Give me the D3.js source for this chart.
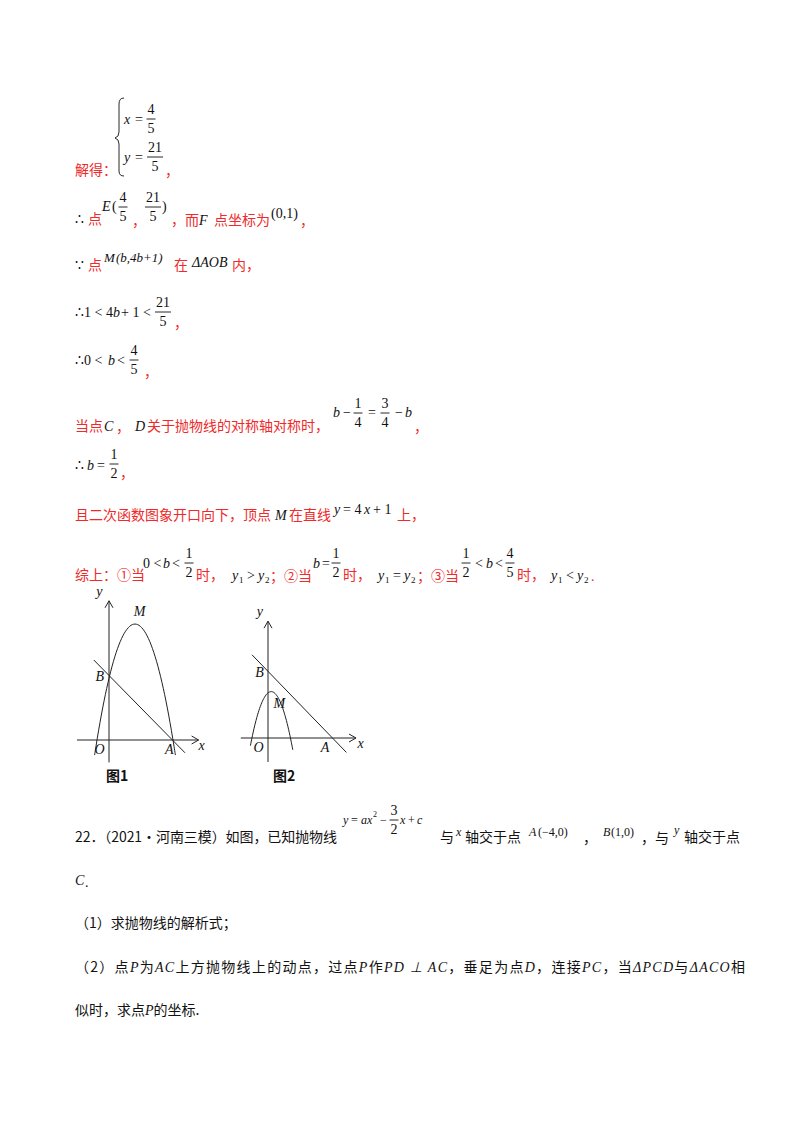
<!DOCTYPE html>
<html><head><meta charset="utf-8">
<script src="https://cdn.jsdelivr.net/npm/d3@7"></script>
<style>
body{margin:0;background:#fff}
text{font-family:"Liberation Serif","DejaVu Serif",serif;font-size:14px;fill:#111}
.cn{font-family:"Noto Sans CJK SC",sans-serif;font-size:14px}
.red{fill:#ee2a2a}
.it{font-style:italic}
</style></head>
<body>
<svg id="page" width="800" height="1132"></svg>
<script>
// figure data (math units, origin O)
var fig1Line = [[-0.95, 5], [4.75, -0.8]];
var fig1Parab = {a: -1.285, h: 1.625, k: 7.25, x0: -0.9, x1: 4.15};
var fig1Labels = [["y", -0.8, 9.0], ["M", 1.55, 7.75], ["B", -0.85, 3.7], ["O", -0.9, -0.9], ["A", 3.5, -0.9], ["x", 5.6, -0.6]];
var fig2Line = [[-1, 5.2], [4.9, -0.9]];
var fig2Parab = {a: -2.0, h: 0.2, k: 2.9, x0: -1.1, x1: 1.55};
var fig2Labels = [["y", -0.7, 7.6], ["B", -0.8, 3.8], ["M", 0.35, 1.85], ["O", -0.9, -0.9], ["A", 3.3, -0.9], ["x", 5.6, -0.6]];

var svg = d3.select("#page");

function t(x, y, s, cls, size) {
  var e = svg.append("text").attr("x", x).attr("y", y).text(s);
  if (cls) e.attr("class", cls);
  if (size) e.style("font-size", size + "px");
  return e;
}
function frac(x, y, num, den) {
  // y = bar position
  t(x, y - 5, num).attr("text-anchor", "middle");
  t(x, y + 14, den).attr("text-anchor", "middle");
  var w = num.length > 1 || den.length > 1 ? 16 : 9;
  svg.append("line").attr("x1", x - w / 2).attr("x2", x + w / 2)
    .attr("y1", y).attr("y2", y).attr("stroke", "#111").attr("stroke-width", 0.9);
}

// system
svg.append("path").attr("d", "M124,98 Q119,98 119,104 L119,132 Q119,137 115,138 Q119,139 119,144 L119,171 Q119,176 124,176")
  .attr("fill", "none").attr("stroke", "#111").attr("stroke-width", 0.9);
t(124, 124, "x", "it"); t(135, 124, "=");
frac(151, 119, "4", "5");
t(124, 162, "y", "it"); t(135, 162, "=");
frac(155, 157, "21", "5");
t(75, 175, "解得：", "cn red");
t(165, 176, "，", "cn red");

// E point
t(75, 224, "∴"); t(88, 224, "点", "cn red");
t(102, 211, "E", "it"); t(112, 211, "(");
frac(123, 207, "4", "5");
t(132, 226, "，", "cn red");
frac(153, 207, "21", "5");
t(162, 211, ")");
t(171, 225, "，而", "cn red"); t(199, 225, "F", "it");
t(214, 225, "点坐标为", "cn red");
t(271, 218, "(0,1)"); t(300, 226, "，", "cn red");

// M in triangle
t(75, 270, "∵"); t(88, 270, "点", "cn red");
t(104, 262, "M", "it", 13); t(116, 262, "(b,4b+1)", "it", 13);
t(174, 270, "在", "cn red"); t(192, 267, "ΔAOB", "it"); t(232, 270, "内，", "cn red");

// inequalities
t(75, 317, "∴1 < 4"); t(113, 317, "b", "it"); t(121, 317, "+ 1 <");
frac(163, 312, "21", "5"); t(174, 328, "，", "cn red");
t(75, 365, "∴0 <"); t(108, 365, "b", "it"); t(117, 365, "<");
frac(134, 360, "4", "5"); t(144, 377, "，", "cn red");

// symmetric
t(75, 431, "当点", "cn red"); t(104, 431, "C", "it"); t(116, 432, "，", "cn red");
t(135, 431, "D", "it"); t(147, 431, "关于抛物线的对称轴对称时，", "cn red");
t(333, 417, "b", "it"); t(343, 417, "−"); frac(358, 413, "1", "4");
t(368, 417, "="); frac(385, 413, "3", "4"); t(395, 417, "−"); t(405, 417, "b", "it");
t(414, 432, "，", "cn red");
t(75, 470, "∴"); t(87, 470, "b", "it"); t(97, 470, "="); frac(114, 464, "1", "2");
t(120, 478, "，", "cn red");

t(75, 520, "且二次函数图象开口向下，顶点", "cn red"); t(275, 520, "M", "it");
t(289, 520, "在直线", "cn red");
t(334, 514, "y", "it"); t(343, 514, "= 4"); t(364, 514, "x", "it"); t(373, 514, "+ 1");
t(397, 520, "上，", "cn red");

// summary
t(75, 580, "综上：①当", "cn red");
t(143, 568, "0 <"); t(163, 568, "b", "it"); t(172, 568, "<"); frac(189, 563, "1", "2");
t(196, 580, "时，", "cn red");
t(232, 580, "y", "it"); t(239, 583, "1", null, 9); t(247, 580, ">"); t(258, 580, "y", "it"); t(265, 583, "2", null, 9);
t(270, 581, "；②当", "cn red");
t(313, 568, "b", "it"); t(322, 568, "="); frac(336, 563, "1", "2");
t(343, 580, "时，", "cn red");
t(378, 580, "y", "it"); t(385, 583, "1", null, 9); t(393, 580, "="); t(404, 580, "y", "it"); t(411, 583, "2", null, 9);
t(417, 581, "；③当", "cn red");
frac(466, 563, "1", "2"); t(475, 568, "<"); t(486, 568, "b", "it"); t(495, 568, "<"); frac(510, 563, "4", "5");
t(517, 580, "时，", "cn red");
t(551, 580, "y", "it"); t(558, 583, "1", null, 9); t(566, 580, "<"); t(577, 580, "y", "it"); t(584, 583, "2", null, 9);
t(591, 581, ".", "red");

// figures
function figure(ox, oy, xmin, xmax, ymin, ymax, lineP, par, labels) {
  var u = 16;
  var x = d3.scaleLinear().domain([0, 1]).range([ox, ox + u]);
  var y = d3.scaleLinear().domain([0, 1]).range([oy, oy - u]);
  var g = svg.append("g").attr("fill", "none").attr("stroke", "#222").attr("stroke-width", 1);
  g.append("line").attr("x1", x(xmin)).attr("x2", x(xmax)).attr("y1", y(0)).attr("y2", y(0));
  g.append("path").attr("d", `M${x(xmax) - 7},${y(0) - 4} L${x(xmax)},${y(0)} L${x(xmax) - 7},${y(0) + 4}`);
  g.append("line").attr("x1", x(0)).attr("x2", x(0)).attr("y1", y(ymin)).attr("y2", y(ymax));
  g.append("path").attr("d", `M${x(0) - 4},${y(ymax) + 7} L${x(0)},${y(ymax)} L${x(0) + 4},${y(ymax) + 7}`);
  g.append("path").attr("d", d3.line().x(d => x(d[0])).y(d => y(d[1]))(lineP));
  var pts = d3.range(0, 61).map(i => {
    var xv = par.x0 + (par.x1 - par.x0) * i / 60;
    return [xv, par.a * (xv - par.h) * (xv - par.h) + par.k];
  });
  g.append("path").attr("d", d3.line().curve(d3.curveBasis).x(d => x(d[0])).y(d => y(d[1]))(pts));
  labels.forEach(l => t(x(l[1]), y(l[2]), l[0], "it", 14));
}
figure(109, 740, -2.0, 5.6, -1.4, 8.7, fig1Line, fig1Parab, fig1Labels);
figure(268, 738, -1.7, 5.5, -1.5, 7.3, fig2Line, fig2Parab, fig2Labels);
t(106, 781, "图1", "cn").style("font-weight", "bold");
t(273, 781, "图2", "cn").style("font-weight", "bold");

// problem 22
t(75, 842, "22．（2021•河南三模）如图，已知抛物线", "cn").attr("textLength", 262);
t(343, 824, "y", "it", 12); t(351, 824, "=", null, 12); t(361, 824, "ax", "it", 12); t(373, 817, "2", null, 8);
t(380, 824, "−", null, 12); frac(394, 820, "3", "2"); t(400, 824, "x", "it", 12); t(408, 824, "+", null, 12); t(417, 824, "c", "it", 12);
t(440, 842, "与", "cn"); t(456, 836, "x", "it", 12); t(465, 842, "轴交于点", "cn");
t(529, 836, "A", "it", 12); t(538, 836, "(−4,0)", null, 12); t(583, 843, "，", "cn");
t(603, 836, "B", "it", 12); t(611, 836, "(1,0)", null, 12); t(641, 843, "，与", "cn");
t(674, 834, "y", "it", 12); t(684, 842, "轴交于点", "cn");
t(75, 885, "C", "it"); t(85, 887, ".");
t(75, 928, "（1）求抛物线的解析式；", "cn");
var l2 = t(75, 972, "", "cn");
[["（2）点", 0], ["P", 1], ["为", 0], ["AC", 1], ["上方抛物线上的动点，过点", 0], ["P", 1], ["作", 0], ["PD ⊥ AC", 1],
 ["，垂足为点", 0], ["D", 1], ["，连接", 0], ["PC", 1], ["，当", 0], ["ΔPCD", 1], ["与", 0], ["ΔACO", 1], ["相", 0]]
  .forEach(s => l2.append("tspan").text(s[0])
    .style("font-family", s[1] ? "Liberation Serif" : null).style("font-style", s[1] ? "italic" : null));
l2.attr("textLength", 670);
var l3 = t(75, 1015, "", "cn");
l3.append("tspan").text("似时，求点");
l3.append("tspan").text("P").style("font-family", "Liberation Serif").style("font-style", "italic");
l3.append("tspan").text("的坐标.");
</script>
</body></html>
